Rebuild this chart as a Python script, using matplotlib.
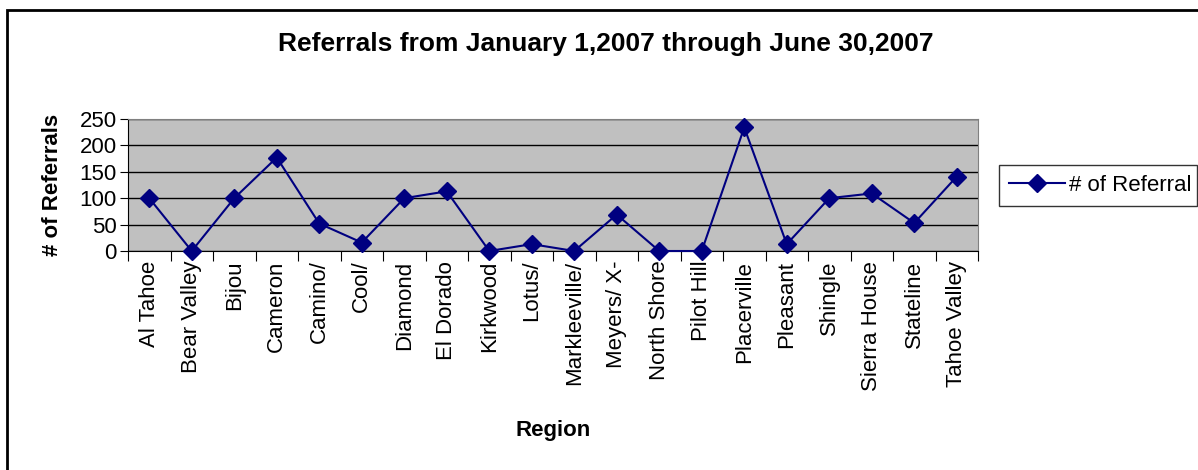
import matplotlib.pyplot as plt
from matplotlib.patches import Rectangle

plt.rcParams['font.family'] = ['Liberation Sans', 'DejaVu Sans']

regions = ['Al Tahoe', 'Bear Valley', 'Bijou', 'Cameron', 'Camino/', 'Cool/',
           'Diamond', 'El Dorado', 'Kirkwood', 'Lotus/', 'Markleeville/',
           'Meyers/ X-', 'North Shore', 'Pilot Hill', 'Placerville', 'Pleasant',
           'Shingle', 'Sierra House', 'Stateline', 'Tahoe Valley']
referrals = [100, 0, 100, 177, 52, 16, 100, 113, 0, 13, 0, 69, 0, 0, 234, 13,
             100, 109, 53, 141]
y_ticks = [0, 50, 100, 150, 200, 250]

fig = plt.figure(figsize=(11.98, 4.70), dpi=100)
# outer chart border (right and bottom edges fall outside the picture)
fig.patches.append(Rectangle((7/1198, -0.05), 1.05, 1.05 - 10/470,
                             transform=fig.transFigure, fill=False,
                             edgecolor='black', linewidth=2))

ax = fig.add_axes([128/1198, 1 - 251/470, 850/1198, 132/470])
ax.set_facecolor('#C0C0C0')
x = list(range(len(regions)))
ax.plot(x, referrals, color='#000080', marker='D', markersize=9,
        linewidth=1.5, label='# of Referral', zorder=3, clip_on=False)

ax.set_xlim(-0.5, len(regions) - 0.5)
ax.set_ylim(0, 250)
ax.set_yticks(y_ticks)
ax.set_yticklabels([str(v) for v in y_ticks], fontsize=16)
ax.yaxis.grid(True, color='black', linewidth=1)
ax.set_axisbelow(True)

# category labels sit between tick marks, Excel style
ax.set_xticks([i - 0.5 for i in range(len(regions) + 1)])
ax.set_xticklabels([])
ax.set_xticks(x, minor=True)
ax.set_xticklabels(regions, minor=True, rotation=90, fontsize=16)
ax.tick_params(axis='x', which='minor', length=0, pad=7)
ax.tick_params(axis='x', which='major', length=7, direction='out', color='black')
ax.tick_params(axis='y', length=6, direction='out', pad=2)
for s in ['top', 'right']:
    ax.spines[s].set_color('#808080')
for s in ['bottom', 'left']:
    ax.spines[s].set_color('black')

ax.set_xlabel('Region', fontsize=16, fontweight='bold', labelpad=21)
ax.set_ylabel('# of Referrals', fontsize=16, fontweight='bold', labelpad=12)
fig.text(606/1198, 1 - 44/470, 'Referrals from January 1,2007 through June 30,2007',
         ha='center', va='center', fontsize=19, fontweight='bold')

leg = ax.legend(loc='center left',
                bbox_to_anchor=(999/1198, 1 - 207/470, 198/1198, 43/470),
                bbox_transform=fig.transFigure, mode='expand', frameon=True,
                fancybox=False, edgecolor='black', fontsize=16,
                handlelength=2.5, borderpad=0.45, borderaxespad=0,
                handletextpad=0.2)
leg.get_frame().set_linewidth(1)

plt.savefig('out.png', dpi=100)
